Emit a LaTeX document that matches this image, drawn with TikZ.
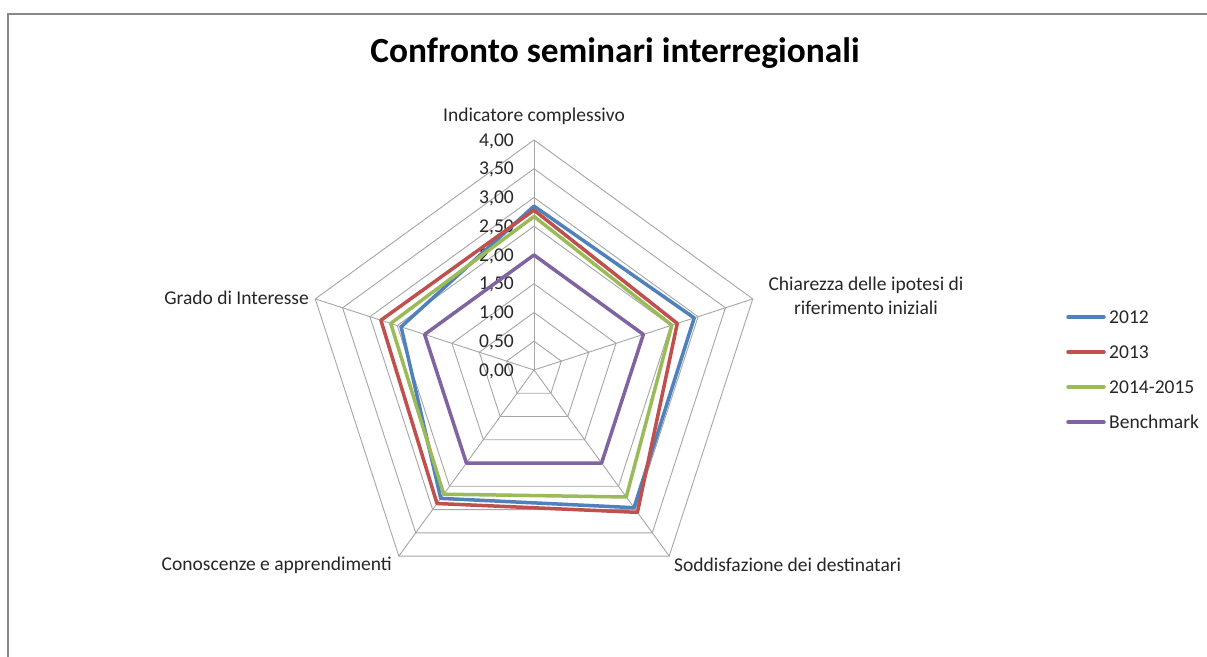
\documentclass[tikz,border=0pt]{standalone}
\usepackage{fontspec}
\setmainfont{Carlito}
\definecolor{c2012}{HTML}{4F81BD}
\definecolor{c2013}{HTML}{C0504D}
\definecolor{c2014}{HTML}{9BBB59}
\definecolor{cbench}{HTML}{8064A2}
\definecolor{gridc}{HTML}{A6A6A6}
\definecolor{framec}{HTML}{888888}
\definecolor{txt}{HTML}{262626}
\tikzset{
  gridline/.style={draw=gridc, line width=0.9bp},
  serie/.style={line width=3.5bp, line join=round},
  lbl/.style={font=\fontsize{19.6}{23.5}\selectfont, text=txt, inner sep=0pt},
  legline/.style={line width=3.5bp, line cap=round},
}
\newcommand{\rseries}[6]{\draw[serie,#1] (90:{#2*57.5}) -- (18:{#3*57.5}) -- (-54:{#4*57.5}) -- (234:{#5*57.5}) -- (162:{#6*57.5}) -- cycle;}
\begin{document}
\begin{tikzpicture}[x=1bp,y=1bp]
\useasboundingbox (0,0) rectangle (1207,657);
\fill[white] (0,0) rectangle (1207,657);
% frame
\draw[framec, line width=1.5bp] (8,-5) -- (8,643) -- (1215,643);
% title
\node[font=\fontsize{35.5}{42}\selectfont\bfseries, text=black, inner sep=0pt] (title) at (615,604) {Confronto seminari interregionali};
\begin{scope}[shift={(534,287)}]
  \coordinate (o) at (0,0);
  % rings
  \foreach \k in {1,...,8}{
    \draw[gridline] (90:{\k*28.75}) -- (18:{\k*28.75}) -- (-54:{\k*28.75}) -- (234:{\k*28.75}) -- (162:{\k*28.75}) -- cycle;
  }
  % spokes
  \foreach \a in {90,18,-54,234,162}{
    \coordinate (v\a) at (\a:230);
    \draw[gridline] (o) -- (v\a);
  }
  % tick labels
  \foreach \k/\t in {0/{0,00},1/{0,50},2/{1,00},3/{1,50},4/{2,00},5/{2,50},6/{3,00},7/{3,50},8/{4,00}}{
    \node[lbl, anchor=east] (tick\k) at (-20,{\k*28.75-1}) {\t};
  }
  % series
  \rseries{c2012}{2.85}{2.93}{2.96}{2.76}{2.43}
  \rseries{c2013}{2.78}{2.62}{3.06}{2.87}{2.80}
  \rseries{c2014}{2.67}{2.52}{2.73}{2.67}{2.62}
  \rseries{cbench}{2.0}{2.0}{2.0}{2.0}{2.0}
  % axis labels
  \node[lbl, anchor=center] (ax1) at (0,254) {Indicatore complessivo};
  \node[lbl, anchor=center, align=center] (ax2) at (332,74) {Chiarezza delle ipotesi di\\riferimento iniziali};
  \node[lbl, anchor=west] (ax3) at (140,-195) {Soddisfazione dei destinatari};
  \node[lbl, anchor=east] (ax4) at (-142,-195) {Conoscenze e apprendimenti};
  \node[lbl, anchor=east] (ax5) at (-225,72) {Grado di Interesse};
\end{scope}
% legend
\foreach \i/\c/\t in {0/c2012/2012,1/c2013/2013,2/c2014/2014-2015,3/cbench/Benchmark}{
  \coordinate (la\i) at (1068,{340-35*\i});
  \coordinate (lb\i) at (1104,{340-35*\i});
  \draw[legline,\c] (la\i) -- (lb\i);
  \node[lbl, anchor=west] (lt\i) at (1109,{340-35*\i}) {\t};
}
\end{tikzpicture}
\end{document}
